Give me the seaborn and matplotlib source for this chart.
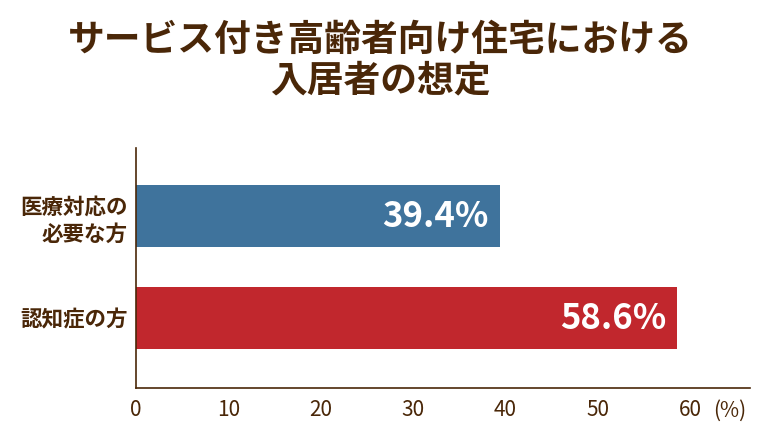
import matplotlib
matplotlib.use("Agg")
import matplotlib.pyplot as plt
import seaborn as sns
import pandas as pd

categories = ["医療対応の\n必要な方", "認知症の方"]
values = [39.4, 58.6]
colors = ["#3f739c", "#c1272d"]
xticks = [0, 10, 20, 30, 40, 50, 60]

brown = "#4a2708"
plt.rcParams["font.family"] = "Noto Sans CJK JP"
fig = plt.figure(figsize=(7.6, 4.33), dpi=100)
ax = fig.add_axes([0.179, 0.104, 0.808, 0.554])
df = pd.DataFrame({"cat": categories, "val": values})
sns.barplot(data=df, x="val", y="cat", hue="cat", palette=colors, orient="h",
            width=0.61, ax=ax, legend=False, saturation=1)
ax.set_xlim(0, 66.5)
ax.set_ylim(1.686, -0.667)
ax.set_xlabel(""); ax.set_ylabel("")
ax.set_xticks(xticks)
ax.set_xticklabels([str(t) for t in xticks], color=brown, fontsize=15)
ax.tick_params(axis="x", length=0, pad=8)
ax.tick_params(axis="y", length=0, pad=6)
for lab in ax.get_yticklabels():
    lab.set_color(brown); lab.set_fontsize(15.5); lab.set_fontweight("bold")
    lab.set_horizontalalignment("right"); lab.set_linespacing(1.35)
for s in ["top", "right"]:
    ax.spines[s].set_visible(False)
for s in ["left", "bottom"]:
    ax.spines[s].set_color(brown); ax.spines[s].set_linewidth(1.2)
for i, v in enumerate(values):
    ax.text(v - 1.2, i, f"{v}%", color="white", fontsize=25, fontweight="bold",
            ha="right", va="center")
ax.text(62.5, -0.05, "(%)", transform=ax.get_xaxis_transform(), color=brown,
        fontsize=15, ha="left", va="top")
fig.text(0.5, 0.86, "サービス付き高齢者向け住宅における\n入居者の想定", ha="center",
         va="center", fontsize=26.5, fontweight="bold", color=brown, linespacing=1.15)
fig.savefig("out.png", dpi=100)
